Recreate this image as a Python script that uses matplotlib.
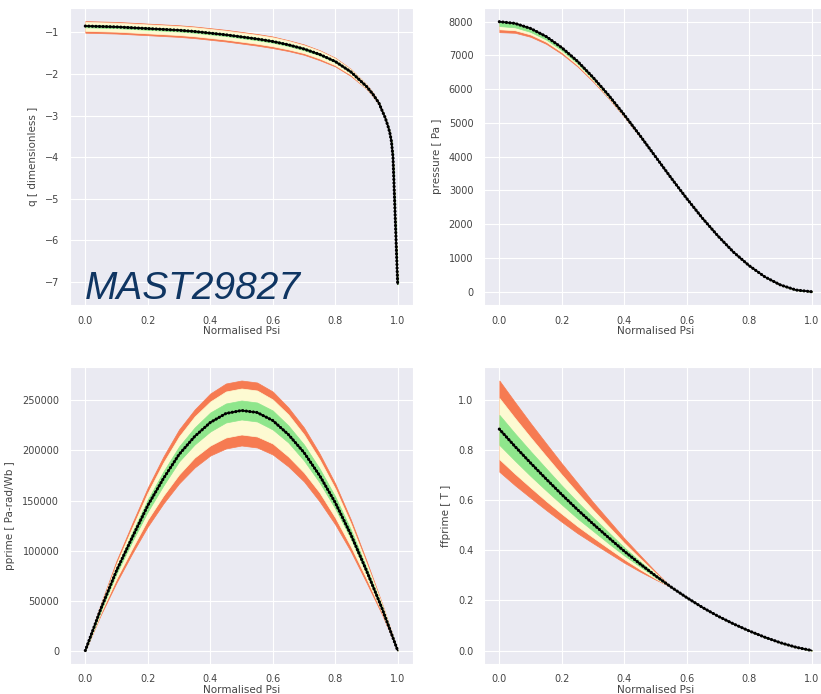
import matplotlib
matplotlib.use("Agg")
import matplotlib.pyplot as plt
import seaborn as sns

# profile grid shared by pressure, pprime and ffprime
psi = [0.0, 0.05, 0.1, 0.15, 0.2, 0.25, 0.3, 0.35, 0.4, 0.45, 0.5,
       0.55, 0.6, 0.65, 0.7, 0.75, 0.8, 0.85, 0.9, 0.95, 1.0]

# q is sampled more densely towards the edge
q_psi = [0.0, 0.05, 0.1, 0.15, 0.2, 0.25, 0.3, 0.35, 0.4, 0.45,
         0.5, 0.55, 0.6, 0.65, 0.7, 0.75, 0.8, 0.85, 0.9,
         0.92, 0.94, 0.95, 0.96, 0.97,
         0.975, 0.98, 0.985, 0.99, 0.995, 1.0]
q_mean = [-0.85, -0.86, -0.87, -0.89, -0.91, -0.93, -0.95, -0.98, -1.02, -1.06,
          -1.11, -1.16, -1.22, -1.30, -1.40, -1.53, -1.70, -1.95, -2.30,
          -2.48, -2.70, -2.88, -3.05, -3.28,
          -3.42, -3.62, -4.00, -5.00, -6.03, -7.05]
q_o_up = [-0.73, -0.74, -0.75, -0.77, -0.79, -0.81, -0.83, -0.86, -0.90, -0.94,
          -0.99, -1.04, -1.10, -1.19, -1.29, -1.43, -1.61, -1.88, -2.25,
          -2.44, -2.68, -2.87, -3.04, -3.28,
          -3.42, -3.62, -4.00, -5.00, -6.03, -7.05]
q_y_up = [-0.75, -0.76, -0.77, -0.79, -0.81, -0.83, -0.85, -0.88, -0.92, -0.96,
          -1.01, -1.06, -1.12, -1.205, -1.31, -1.445, -1.625, -1.89, -2.26,
          -2.45, -2.68, -2.87, -3.045, -3.28,
          -3.42, -3.62, -4.00, -5.00, -6.03, -7.05]
q_g_up = [-0.82, -0.83, -0.84, -0.86, -0.88, -0.90, -0.92, -0.95, -0.99, -1.03,
          -1.08, -1.13, -1.19, -1.27, -1.37, -1.505, -1.68, -1.93, -2.29,
          -2.47, -2.69, -2.877, -3.048, -3.28,
          -3.42, -3.62, -4.00, -5.00, -6.03, -7.05]
q_g_lo = [-0.88, -0.89, -0.90, -0.92, -0.94, -0.96, -0.98, -1.01, -1.05, -1.09,
          -1.14, -1.19, -1.25, -1.33, -1.43, -1.555, -1.72, -1.97, -2.31,
          -2.49, -2.71, -2.883, -3.052, -3.28,
          -3.42, -3.62, -4.00, -5.00, -6.03, -7.05]
q_y_lo = [-0.965, -0.975, -0.985, -1.005, -1.025, -1.045, -1.065, -1.095, -1.135, -1.175,
          -1.225, -1.275, -1.335, -1.41, -1.50, -1.63, -1.79, -2.02, -2.35,
          -2.515, -2.72, -2.89, -3.056, -3.28,
          -3.42, -3.62, -4.00, -5.00, -6.03, -7.05]
q_o_lo = [-1.01, -1.02, -1.03, -1.05, -1.07, -1.09, -1.11, -1.14, -1.18, -1.22,
          -1.27, -1.32, -1.38, -1.45, -1.54, -1.67, -1.82, -2.05, -2.36,
          -2.53, -2.73, -2.896, -3.058, -3.28,
          -3.42, -3.62, -4.00, -5.00, -6.03, -7.05]

# pressure [Pa], spread only below the mean
p_mean = [8000, 7950, 7800, 7560, 7230, 6830, 6350, 5820, 5240, 4630, 4000,
          3370, 2760, 2180, 1650, 1170, 770, 440, 200, 50, 0]
p_g_lo = [7870, 7833, 7696, 7469, 7152, 6765, 6298, 5781, 5214, 4617, 4000,
          3370, 2760, 2180, 1650, 1170, 770, 440, 200, 50, 0]
p_y_lo = [7775, 7747, 7620, 7402, 7095, 6717, 6260, 5752, 5195, 4607, 4000,
          3370, 2760, 2180, 1650, 1170, 770, 440, 200, 50, 0]
p_o_lo = [7690, 7671, 7552, 7343, 7044, 6675, 6226, 5727, 5178, 4599, 4000,
          3370, 2760, 2180, 1650, 1170, 770, 440, 200, 50, 0]

# pprime [Pa rad/Wb]
pp_mean = [0, 42000, 80000, 113000, 145000, 172000, 196000, 214000, 228000, 237000, 240000,
           238000, 230000, 216000, 198000, 175000, 148000, 116000, 80000, 42000, 0]
pp_o_up = [0, 47000, 90000, 127000, 163000, 194000, 221000, 241000, 257000, 267000, 270000,
           268000, 259000, 243000, 223000, 197000, 167000, 131000, 90000, 47000, 0]
pp_y_up = [0, 46000, 87000, 123000, 158000, 188000, 214000, 234000, 249000, 259000, 262000,
           260000, 251000, 236000, 216000, 191000, 162000, 127000, 87000, 46000, 0]
pp_g_up = [0, 44000, 83000, 118000, 151000, 179000, 204000, 223000, 238000, 247000, 250000,
           248000, 240000, 225000, 206000, 182000, 154000, 121000, 83000, 44000, 0]
pp_g_lo = [0, 40000, 77000, 109000, 139000, 165000, 189000, 206000, 219000, 228000, 231000,
           229000, 221000, 208000, 190000, 168000, 142000, 112000, 77000, 40000, 0]
pp_y_lo = [0, 38000, 72000, 102000, 131000, 155000, 176000, 193000, 205000, 213000, 216000,
           214000, 207000, 194000, 178000, 158000, 133000, 104000, 72000, 38000, 0]
pp_o_lo = [0, 36000, 68000, 97000, 124000, 147000, 167000, 183000, 195000, 202000, 205000,
           203000, 196000, 184000, 169000, 149000, 126000, 99000, 68000, 36000, 0]

# ffprime [T]
ff_mean = [0.883, 0.814, 0.748, 0.684, 0.622, 0.562, 0.505, 0.450, 0.396, 0.346, 0.298,
           0.253, 0.211, 0.172, 0.137, 0.106, 0.078, 0.053, 0.031, 0.013, 0.0]
ff_o_up = [1.077, 0.991, 0.907, 0.826, 0.746, 0.669, 0.592, 0.520, 0.448, 0.381, 0.315,
           0.253, 0.211, 0.172, 0.137, 0.106, 0.078, 0.053, 0.031, 0.013, 0.0]
ff_y_up = [1.007, 0.927, 0.850, 0.775, 0.701, 0.630, 0.561, 0.495, 0.429, 0.368, 0.309,
           0.253, 0.211, 0.172, 0.137, 0.106, 0.078, 0.053, 0.031, 0.013, 0.0]
ff_g_up = [0.940, 0.866, 0.795, 0.726, 0.658, 0.593, 0.531, 0.471, 0.411, 0.356, 0.303,
           0.253, 0.211, 0.172, 0.137, 0.106, 0.078, 0.053, 0.031, 0.013, 0.0]
ff_g_lo = [0.820, 0.757, 0.696, 0.638, 0.582, 0.527, 0.477, 0.427, 0.379, 0.335, 0.292,
           0.253, 0.211, 0.172, 0.137, 0.106, 0.078, 0.053, 0.031, 0.013, 0.0]
ff_y_lo = [0.763, 0.705, 0.650, 0.596, 0.545, 0.496, 0.451, 0.407, 0.364, 0.324, 0.287,
           0.253, 0.211, 0.172, 0.137, 0.106, 0.078, 0.053, 0.031, 0.013, 0.0]
ff_o_lo = [0.713, 0.659, 0.609, 0.560, 0.513, 0.468, 0.428, 0.389, 0.350, 0.315, 0.283,
           0.253, 0.211, 0.172, 0.137, 0.106, 0.078, 0.053, 0.031, 0.013, 0.0]

ORANGE = "#f67b52"
YELLOW = "#fdfad2"
GREEN = "#8fe68c"
TXT = "#444444"

sns.set_style("darkgrid")
plt.rcParams["font.family"] = ["DejaVu Sans"]


def plot_profile(ax, x, mean, bands, ylabel):
    # outer band first, inner bands on top
    for lo, hi, col in bands:
        ax.fill_between(x, lo, hi, color=col, lw=0.5, zorder=2)
    ax.plot(x, mean, color="k", lw=1.2, zorder=3)
    # beaded look along the mean profile
    ax.plot(x, mean, color="k", lw=2.3, ls=(0, (0.01, 1.1)),
            dash_capstyle="round", zorder=4)
    ax.set_xticks([0.0, 0.2, 0.4, 0.6, 0.8, 1.0])
    ax.set_xlabel("Normalised Psi", fontsize=7.5, color=TXT, labelpad=0.5)
    ax.set_ylabel(ylabel, fontsize=7.5, color=TXT, labelpad=5)
    ax.tick_params(labelsize=7, colors=TXT, pad=4)
    ax.grid(color="white", lw=0.8)


fig = plt.figure(figsize=(8.21, 6.94), dpi=100)
ax_q = fig.add_axes([0.0849, 0.5602, 0.4185, 0.428])
ax_p = fig.add_axes([0.5892, 0.5602, 0.4185, 0.428])
ax_pp = fig.add_axes([0.0849, 0.0432, 0.4185, 0.428])
ax_ff = fig.add_axes([0.5892, 0.0432, 0.4185, 0.428])

plot_profile(ax_q, q_psi, q_mean,
             [(q_o_lo, q_o_up, ORANGE), (q_y_lo, q_y_up, YELLOW), (q_g_lo, q_g_up, GREEN)],
             "q [ dimensionless ]")
ax_q.set_ylim(-7.56, -0.42)

plot_profile(ax_p, psi, p_mean,
             [(p_o_lo, p_mean, ORANGE), (p_y_lo, p_mean, YELLOW), (p_g_lo, p_mean, GREEN)],
             "pressure [ Pa ]")

plot_profile(ax_pp, psi, pp_mean,
             [(pp_o_lo, pp_o_up, ORANGE), (pp_y_lo, pp_y_up, YELLOW), (pp_g_lo, pp_g_up, GREEN)],
             "pprime [ Pa-rad/Wb ]")

plot_profile(ax_ff, psi, ff_mean,
             [(ff_o_lo, ff_o_up, ORANGE), (ff_y_lo, ff_y_up, YELLOW), (ff_g_lo, ff_g_up, GREEN)],
             "ffprime [ T ]")

fig.text(85 / 821, 1 - 299 / 694, "MAST29827", fontsize=28, style="italic",
         family=["Liberation Sans", "DejaVu Sans"], color="#0f3562",
         ha="left", va="baseline")

fig.savefig("out.png", dpi=100)
